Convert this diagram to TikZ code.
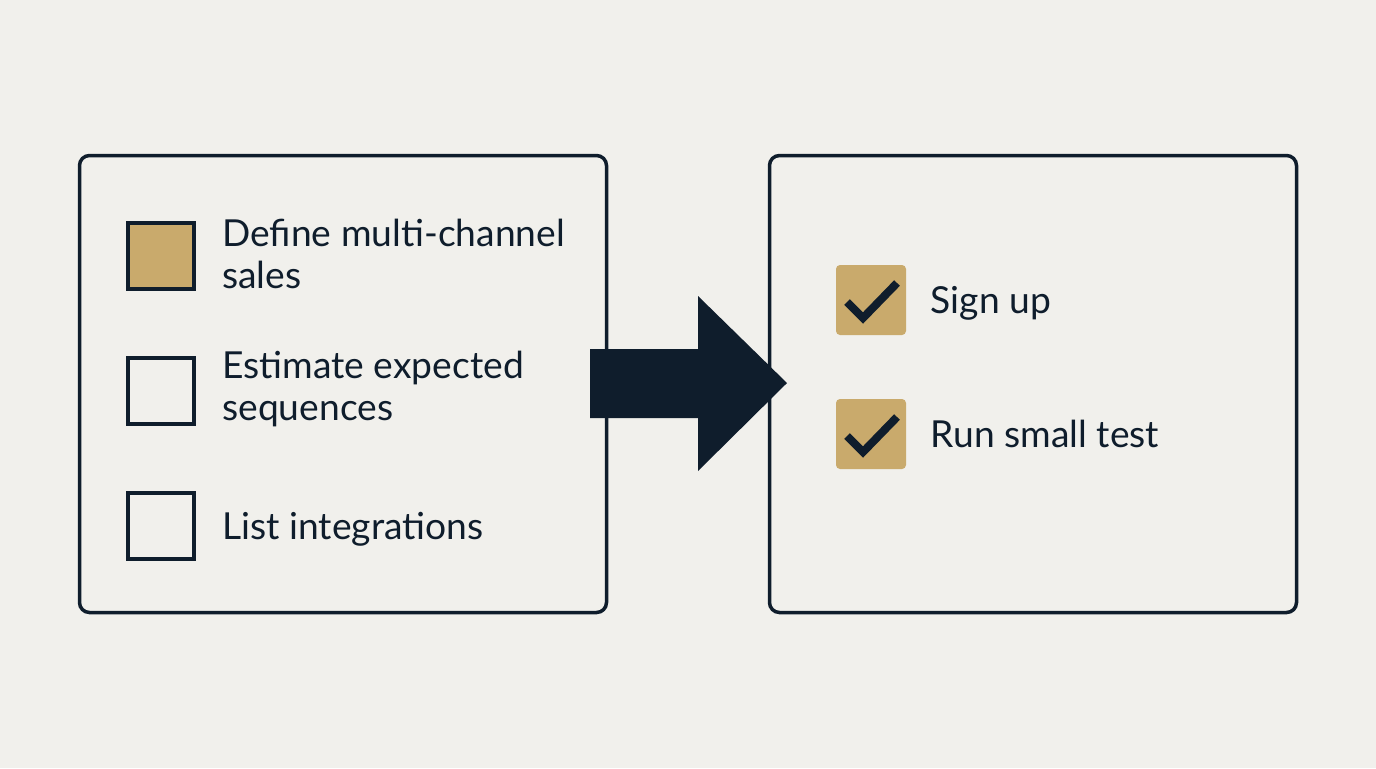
\documentclass[tikz,border=0pt]{standalone}
\usepackage{fontspec}
\setmainfont{Lato}
\usepackage{xcolor}
\usetikzlibrary{positioning}
\definecolor{ink}{HTML}{0F1D2C}
\definecolor{paper}{HTML}{F1F0EC}
\definecolor{sand}{HTML}{C9AA6C}

\begin{document}
\begin{tikzpicture}[
    x=0.5pt, y=-0.5pt,
    panel/.style={draw=ink, line width=1.75pt, rounded corners=5pt},
    todo/.style={rectangle, draw=ink, line width=2pt, minimum size=33pt, inner sep=0pt},
    done/.style={rectangle, fill=sand, rounded corners=2pt, minimum size=35pt, inner sep=0pt},
    item/.style={inner sep=0pt, align=left, text=ink, font=\fontsize{18.6}{21}\selectfont},
    oneline/.style={item, text depth=0pt}
]
\fill[paper] (0,0) rectangle (1376,768);
\useasboundingbox (0,0) rectangle (1376,768);

% panels
\draw[panel] (79.5,155.5) rectangle (606.5,612.5);
\draw[panel] (769.5,155.5) rectangle (1296.5,612.5);

% open tasks
\node[todo, fill=sand] (box1) at (161,255.5) {};
\node[todo] (box2) at (161,391) {};
\node[todo] (box3) at (161,526) {};
\node[item, right=13pt of box1, yshift=1pt] (txt1) {Define multi-channel\\sales};
\node[item, right=13pt of box2, yshift=1pt] (txt2) {Estimate expected\\sequences};
\node[oneline, right=13pt of box3] (txt3) {List integrations};

% big arrow
\fill[ink] (590,349) -- (698,349) -- (698,296) -- (787,383) -- (698,471) -- (698,418) -- (590,418) -- cycle;

% finished tasks
\node[done] (chk1) at (871,300) {};
\node[done] (chk2) at (871,434) {};
\foreach \c in {chk1,chk2}
  \draw[ink, line width=4pt] ([shift={(-24,2)}]\c.center) -- ([shift={(-8,18)}]\c.center) -- ([shift={(26,-17)}]\c.center);
\node[oneline, right=12pt of chk1] (txt4) {Sign up};
\node[oneline, right=12pt of chk2] (txt5) {Run small test};

\end{tikzpicture}
\end{document}
